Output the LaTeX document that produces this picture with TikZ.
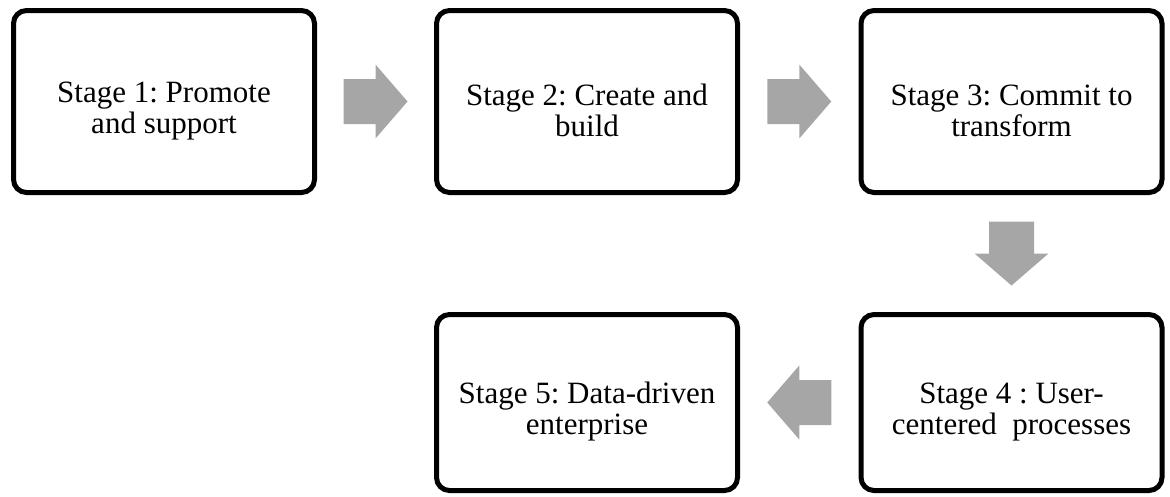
\documentclass[tikz,border=0pt]{standalone}
\usepackage{fontspec}
\setmainfont{Liberation Serif}
\usetikzlibrary{calc}
\definecolor{arrowgray}{RGB}{166,166,166}
% extra head room above the first line, so the text sits a little low in its box
\newcommand{\toproom}{\rule{0pt}{40pt}}
\tikzset{
  stagebox/.style={draw=black, line width=5pt, rounded corners=13pt, fill=white,
    minimum width=301pt, inner sep=0pt, align=center,
    font=\fontsize{31}{31}\selectfont\frenchspacing},
  toprow/.style={stagebox, minimum height=182pt},
  bottomrow/.style={stagebox, minimum height=176pt},
  blockarrow/.pic={
    \fill[arrowgray] (-32,-22.5) -- (0,-22.5) -- (0,-37) -- (32,0)
      -- (0,37) -- (0,22.5) -- (-32,22.5) -- cycle;
  }
}
\begin{document}
\begin{tikzpicture}[x=1pt,y=-1pt]
  \useasboundingbox (0,0) rectangle (1170,496);
  % stage boxes
  \node[toprow] (s1) at (164,101.5) {\toproom Stage 1: Promote\\and support};
  \node[toprow] (s2) at (587,101.5) {\toproom Stage 2: Create and\\build};
  \node[toprow] (s3) at (1011.5,101.5) {\toproom Stage 3: Commit to\\transform};
  \node[bottomrow] (s4) at (1011.5,402.5) {\toproom Stage 4 : User-\\centered~~processes};
  \node[bottomrow] (s5) at (587,402.5) {\toproom Stage 5: Data-driven\\enterprise};
  % block arrows between the stages
  \pic at ($(s1.east)!0.5!(s2.west)$) {blockarrow};
  \pic at ($(s2.east)!0.5!(s3.west)$) {blockarrow};
  \pic[rotate=-90] at ($(s3.south)!0.5!(s4.north)$) {blockarrow};
  \pic[rotate=180] at ($(s4.west)!0.5!(s5.east)$) {blockarrow};
\end{tikzpicture}
\end{document}
